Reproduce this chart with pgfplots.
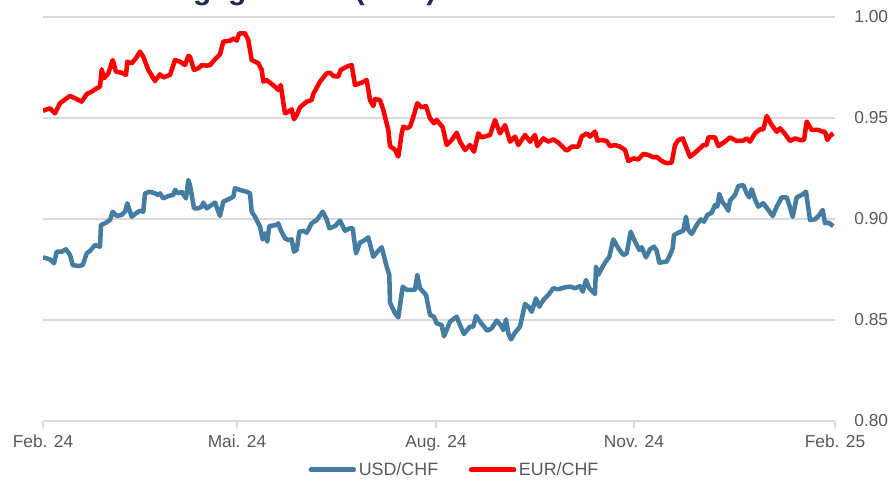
\documentclass[border=0pt]{standalone}
\usepackage{fontspec}
\setmainfont{Liberation Sans}
\usepackage{pgfplots}
\pgfplotsset{compat=1.18}
\definecolor{usdblue}{HTML}{447CA2}
\definecolor{eurred}{HTML}{FF0000}
\definecolor{gridgray}{HTML}{D9D9D9}
\definecolor{labelgray}{HTML}{595959}
\definecolor{titlenavy}{HTML}{1C2B4B}

% x = horizontal position of the day in the chart (Feb. 24 ... Feb. 25)
\pgfplotstableread{
x y
43 0.8810
50 0.8800
54 0.8781
56.7 0.8838
61.7 0.8838
66 0.8850
70 0.8822
72.7 0.8772
78.3 0.8767
82.7 0.8772
86.7 0.8830
90 0.8842
95 0.8871
100 0.8863
101 0.8970
105 0.8979
110 0.8995
112.7 0.9036
116.7 0.9015
121.7 0.9020
125 0.9036
127.3 0.9078
131.7 0.9011
136.7 0.9031
140 0.9041
143.3 0.9036
145 0.9127
150 0.9135
155 0.9127
158.3 0.9119
160 0.9127
163.3 0.9102
168.3 0.9114
173.3 0.9119
175 0.9144
178.3 0.9127
181.7 0.9135
186 0.9102
188.3 0.9193
190 0.9168
194 0.9053
198.3 0.9053
201.7 0.9061
203.3 0.9081
206.7 0.9053
215 0.9081
220 0.9015
223.3 0.9086
228.3 0.9097
233.3 0.9110
235 0.9152
240 0.9144
246.7 0.9135
250 0.9127
251.7 0.9036
255 0.9011
260 0.8962
262.7 0.8899
265 0.8929
267.3 0.8888
269.3 0.8965
276.7 0.8970
278.3 0.8979
280.7 0.8946
285 0.8904
288.3 0.8896
291.7 0.8899
294 0.8838
296.7 0.8847
299.3 0.8937
303.3 0.8941
306.7 0.8932
311.7 0.8979
316.7 0.8995
322.7 0.9036
326.7 0.8998
329.3 0.8954
335 0.8965
340 0.8992
345 0.8942
350 0.8954
352.7 0.8954
356 0.8830
360 0.8883
365 0.8896
368.3 0.8909
373.3 0.8813
378.3 0.8843
381.7 0.8860
386.7 0.8764
389.3 0.8723
390 0.8586
395 0.8533
398.3 0.8513
402.7 0.8665
406.7 0.8649
415 0.8649
417.3 0.8723
420 0.8657
426 0.8624
430 0.8525
434 0.8516
436.7 0.8483
441.7 0.8475
444 0.8419
450 0.8492
456.7 0.8516
460 0.8475
464 0.8431
470 0.8467
473.3 0.8467
476 0.8520
480 0.8492
487.3 0.8447
491.7 0.8459
496.7 0.8497
500.7 0.8475
503.3 0.8450
506 0.8503
508.3 0.8434
511 0.8404
515 0.8437
520 0.8467
525 0.8579
528.3 0.8566
531.7 0.8541
536 0.8607
539.3 0.8566
543.3 0.8599
548.3 0.8624
553.3 0.8657
558.3 0.8652
565 0.8662
570.7 0.8665
575 0.8657
580 0.8668
582.7 0.8640
586 0.8698
589.3 0.8657
595 0.8629
596 0.8764
598.3 0.8723
601.7 0.8756
605 0.8784
609.3 0.8813
613.3 0.8899
618.3 0.8855
623.3 0.8822
626.7 0.8830
630.7 0.8937
635 0.8888
639.3 0.8847
641.7 0.8860
646 0.8810
650 0.8850
654 0.8863
656.7 0.8843
659.3 0.8784
666.7 0.8789
670 0.8822
672.7 0.8855
674 0.8921
678.3 0.8932
683.3 0.8942
686 0.9011
688.3 0.8946
691.7 0.8926
696.7 0.8970
700.7 0.8998
704 0.8987
707.3 0.9020
711.7 0.9031
715 0.9069
717.3 0.9061
719.3 0.9124
722.7 0.9081
725 0.9069
728.3 0.9041
730 0.9091
735 0.9119
738.3 0.9163
743.3 0.9168
746.7 0.9127
749.3 0.9107
751.7 0.9147
755 0.9098
758.3 0.9061
763.3 0.9078
768.3 0.9045
772.7 0.9015
776.7 0.9061
781.7 0.9107
786.7 0.9107
789.3 0.9069
792.7 0.9011
796.7 0.9107
801.7 0.9119
806 0.9135
810 0.8995
815 0.8998
819.3 0.9020
822.7 0.9045
825 0.8979
828.3 0.8982
833.3 0.8965
}\usdchf

\pgfplotstableread{
x y
43 0.9536
50 0.9548
55 0.9523
60 0.9573
66.7 0.9598
70 0.9609
75 0.9598
81.7 0.9581
86.7 0.9619
91.7 0.9630
96.7 0.9647
100 0.9655
101.7 0.9741
104 0.9697
108.3 0.9721
112.7 0.9787
116 0.9729
121.7 0.9724
126 0.9713
127.3 0.9779
131.7 0.9771
136 0.9796
140 0.9828
143.3 0.9803
148.3 0.9738
155 0.9683
160 0.9716
163.3 0.9701
170 0.9713
175 0.9787
180 0.9779
185 0.9762
188.3 0.9807
190 0.9803
194 0.9738
198.3 0.9746
201.7 0.9762
206.7 0.9759
210 0.9762
215 0.9790
220 0.9815
223.3 0.9878
230 0.9883
234 0.9894
236.7 0.9883
239.3 0.9919
245 0.9919
248.3 0.9886
251.7 0.9787
258.3 0.9771
261.7 0.9738
263.3 0.9680
266.7 0.9688
270 0.9675
275 0.9655
278.3 0.9639
280.7 0.9663
285 0.9523
288.3 0.9531
291.7 0.9543
294 0.9494
296.7 0.9515
300 0.9553
306.7 0.9581
311.7 0.9589
313.3 0.9619
320 0.9680
326.7 0.9721
330 0.9724
333.3 0.9708
338.3 0.9705
340.7 0.9738
346.7 0.9754
351.7 0.9762
355 0.9663
361.7 0.9675
366.7 0.9688
370 0.9589
373.3 0.9559
375 0.9594
380 0.9589
383.3 0.9540
388.3 0.9441
390 0.9361
395 0.9342
398.3 0.9309
401.7 0.9424
403.3 0.9457
406.7 0.9449
410 0.9457
413.3 0.9506
417.3 0.9573
421.7 0.9553
426 0.9559
430 0.9498
434 0.9474
436.7 0.9490
442.7 0.9454
446.7 0.9366
451.7 0.9391
456.7 0.9427
460 0.9383
465 0.9342
470 0.9366
474 0.9333
478.3 0.9424
481.7 0.9404
490 0.9416
495 0.9490
500 0.9424
505 0.9465
510 0.9383
515 0.9408
518.3 0.9366
525 0.9416
530 0.9383
535 0.9416
537.3 0.9361
543.3 0.9399
548.3 0.9383
553.3 0.9394
558.3 0.9378
566.7 0.9338
571.7 0.9358
578.3 0.9358
581.7 0.9408
586.7 0.9424
590 0.9408
595 0.9433
597.3 0.9388
601.7 0.9391
606.7 0.9386
610 0.9361
615 0.9366
620 0.9358
625 0.9342
628.3 0.9287
633.3 0.9300
638.3 0.9295
643.3 0.9322
648.3 0.9317
653.3 0.9305
656.7 0.9308
661.7 0.9287
666.7 0.9276
671.7 0.9279
675 0.9366
678.3 0.9391
682.7 0.9399
690 0.9308
695 0.9328
700 0.9350
703.3 0.9366
706.7 0.9366
708.3 0.9404
715 0.9404
718.3 0.9361
725 0.9383
730 0.9404
736.7 0.9386
743.3 0.9388
746.7 0.9399
750 0.9383
755 0.9424
760 0.9444
763.3 0.9444
766.7 0.9510
771.7 0.9465
776.7 0.9432
780 0.9449
785 0.9421
790 0.9386
795 0.9399
800 0.9391
804 0.9391
806.7 0.9482
811.7 0.9441
818.3 0.9441
822.7 0.9432
825 0.9432
827.3 0.9391
830 0.9411
833.3 0.9424
}\eurchf

\begin{document}
\begin{tikzpicture}
\begin{axis}[
    at={(0pt,0pt)}, anchor=south west,
    scale only axis,
    width=594pt, height=303pt,
    xmin=43, xmax=835,
    ymin=0.80, ymax=1.00,
    axis x line*=bottom,
    axis y line*=right,
    x axis line style={draw=gridgray, line width=1pt, -},
    y axis line style={draw=none},
    xtick={43,237,436,634,835},
    xticklabels={Feb. 24, Mai. 24, Aug. 24, Nov. 24, Feb. 25},
    ytick={0.80,0.85,0.90,0.95,1.00},
    /pgf/number format/fixed,
    /pgf/number format/fixed zerofill,
    /pgf/number format/precision=2,
    /pgf/number format/assume math mode=true,
    ymajorgrids,
    grid style={draw=gridgray, line width=1pt},
    tick align=outside,
    major tick length=5pt,
    xtick style={draw=gridgray, line width=1pt},
    ytick style={draw=none},
    ticklabel style={font=\fontsize{13}{15}\selectfont, text=labelgray},
    yticklabel style={anchor=west, xshift=6pt},
    xticklabel style={yshift=-2pt},
    legend style={at={(0.52,-0.121)}, anchor=center, legend columns=2,
        draw=none, fill=none, font=\fontsize{13.4}{15}\selectfont, text=labelgray,
        /tikz/every even column/.append style={column sep=21pt}},
    legend image code/.code={\draw[#1, line width=3.6pt, line cap=round] (0pt,0pt) -- (32pt,0pt);},
    line join=round,
]
\addplot[usdblue, line width=3.4pt] table[x=x, y=y] {\usdchf};
\addlegendentry{USD/CHF}
\addplot[eurred, line width=3.4pt] table[x=x, y=y] {\eurchf};
\addlegendentry{EUR/CHF}
\end{axis}
% title, cut off at the top edge as in the reference
\node[anchor=base west, inner sep=0pt, font=\bfseries\fontsize{22.5}{27}\selectfont, text=titlenavy]
    at (-32.25pt, 316.4pt) {Wechselkurs gegenüber (CHF)};
\pgfresetboundingbox
\useasboundingbox (-32.25pt,-45.75pt) rectangle (635.25pt,315.75pt);
\end{tikzpicture}
\end{document}
